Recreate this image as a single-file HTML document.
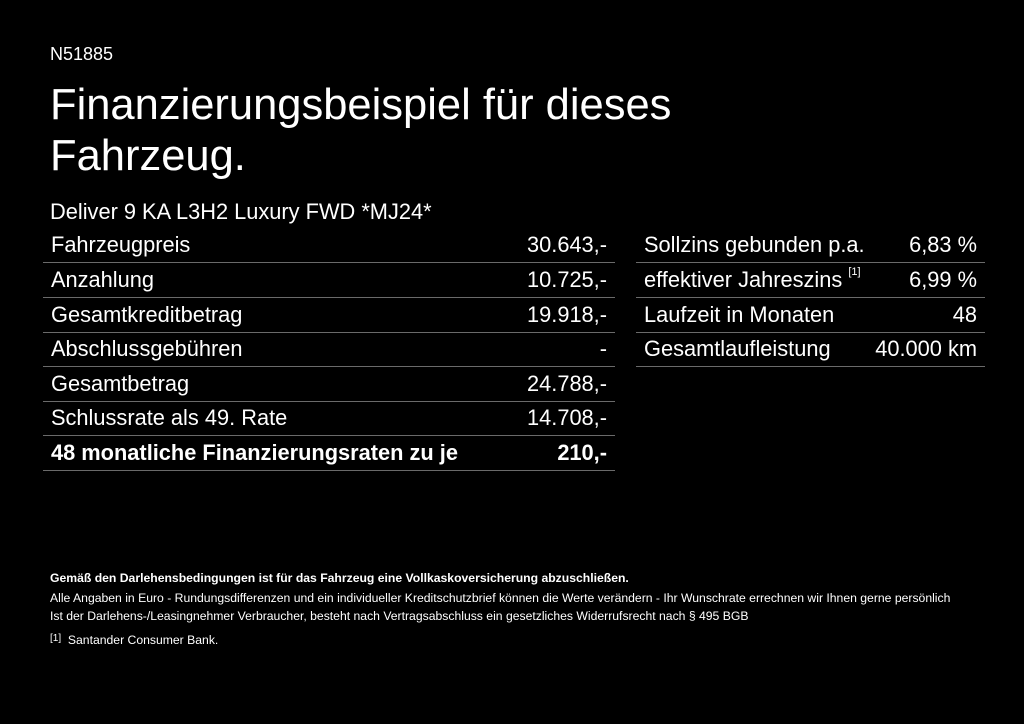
<!DOCTYPE html>
<html><head><meta charset="utf-8"><style>
body{margin:0;background:#000;width:1024px;height:724px;overflow:hidden;font-family:"Liberation Sans",sans-serif;color:#fff;position:relative}
.a{position:absolute;white-space:nowrap}
.row{position:absolute;height:34px;border-bottom:1px solid #6a6a6a;font-size:21.8px;line-height:34px}
.row span{position:absolute}
.l{left:8px}.r{right:8px}
.f{position:absolute;left:50px;font-size:12.2px;white-space:nowrap}
</style></head><body>
<div class="a" style="left:50px;top:44px;font-size:18px">N51885</div>
<div class="a" style="left:50px;top:80px;font-size:43.5px;line-height:51px">Finanzierungsbeispiel für dieses<br>Fahrzeug.</div>
<div class="a" style="left:50px;top:199px;font-size:21.8px">Deliver 9 KA L3H2 Luxury FWD *MJ24*</div>

<div class="row" style="left:43px;width:572px;top:228px"><span class="l">Fahrzeugpreis</span><span class="r">30.643,-</span></div>
<div class="row" style="left:43px;width:572px;top:263px"><span class="l">Anzahlung</span><span class="r">10.725,-</span></div>
<div class="row" style="left:43px;width:572px;top:298px"><span class="l">Gesamtkreditbetrag</span><span class="r">19.918,-</span></div>
<div class="row" style="left:43px;width:572px;top:332px"><span class="l">Abschlussgebühren</span><span class="r">-</span></div>
<div class="row" style="left:43px;width:572px;top:367px"><span class="l">Gesamtbetrag</span><span class="r">24.788,-</span></div>
<div class="row" style="left:43px;width:572px;top:401px"><span class="l">Schlussrate als 49. Rate</span><span class="r">14.708,-</span></div>
<div class="row" style="left:43px;width:572px;top:436px;font-weight:bold"><span class="l">48 monatliche Finanzierungsraten zu je</span><span class="r">210,-</span></div>

<div class="row" style="left:636px;width:349px;top:228px"><span class="l">Sollzins gebunden p.a.</span><span class="r">6,83 %</span></div>
<div class="row" style="left:636px;width:349px;top:263px"><span class="l">effektiver Jahreszins <sup style="font-size:11px;vertical-align:top;position:relative;top:-8px">[1]</sup></span><span class="r">6,99 %</span></div>
<div class="row" style="left:636px;width:349px;top:298px"><span class="l">Laufzeit in Monaten</span><span class="r">48</span></div>
<div class="row" style="left:636px;width:349px;top:332px"><span class="l">Gesamtlaufleistung</span><span class="r">40.000 km</span></div>

<div class="f" style="top:571px;font-weight:bold">Gemäß den Darlehensbedingungen ist für das Fahrzeug eine Vollkaskoversicherung abzuschließen.</div>
<div class="f" style="top:591px">Alle Angaben in Euro - Rundungsdifferenzen und ein individueller Kreditschutzbrief können die Werte verändern - Ihr Wunschrate errechnen wir Ihnen gerne persönlich</div>
<div class="f" style="top:609px">Ist der Darlehens-/Leasingnehmer Verbraucher, besteht nach Vertragsabschluss ein gesetzliches Widerrufsrecht nach § 495 BGB</div>
<div class="f" style="top:633px"><span style="font-size:10px;position:relative;top:-3px">[1]</span>&nbsp; Santander Consumer Bank.</div>
</body></html>
